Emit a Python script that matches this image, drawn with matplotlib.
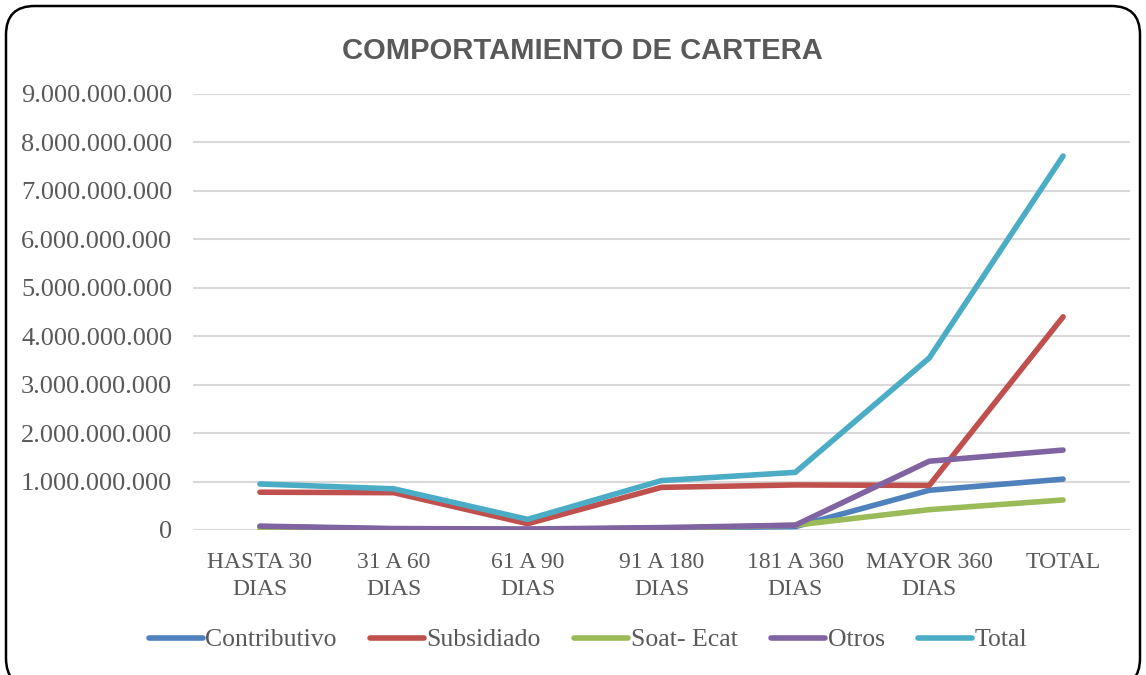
import numpy as np
import matplotlib
matplotlib.use("Agg")
import matplotlib.pyplot as plt
from matplotlib.patches import FancyBboxPatch
from matplotlib.ticker import FuncFormatter

mpl = matplotlib
mpl.rcParams["font.family"] = "Liberation Serif"

categories = ["HASTA 30\nDIAS", "31 A 60\nDIAS", "61 A 90\nDIAS", "91 A 180\nDIAS",
              "181 A 360\nDIAS", "MAYOR 360\nDIAS", "TOTAL"]

contributivo = [0.07e9, 0.02e9, 0.01e9, 0.04e9, 0.07e9, 0.82e9, 1.05e9]
subsidiado = [0.78e9, 0.77e9, 0.13e9, 0.88e9, 0.93e9, 0.92e9, 4.40e9]
soat_ecat = [0.02e9, 0.01e9, 0.01e9, 0.03e9, 0.10e9, 0.42e9, 0.62e9]
otros = [0.08e9, 0.03e9, 0.02e9, 0.05e9, 0.10e9, 1.42e9, 1.65e9]
total = [0.95e9, 0.85e9, 0.22e9, 1.02e9, 1.19e9, 3.55e9, 7.72e9]

series = [
    ("Contributivo", contributivo, "#4F81BD"),
    ("Subsidiado", subsidiado, "#C0504D"),
    ("Soat- Ecat", soat_ecat, "#9BBB59"),
    ("Otros", otros, "#8064A2"),
    ("Total", total, "#4BACC6"),
]

fig = plt.figure(figsize=(11.46, 6.75), dpi=100)
ax = fig.add_axes([193 / 1146, 1 - 530 / 675, 937 / 1146, 436 / 675])

x = np.arange(len(categories))
for name, vals, col in series:
    ax.plot(x, vals, color=col, lw=4, solid_capstyle="round",
            solid_joinstyle="round", label=name)

ax.set_xlim(-0.5, len(categories) - 0.5)
ax.set_ylim(0, 9e9)
ax.set_yticks(np.arange(0, 9.5e9, 1e9))
ax.yaxis.set_major_formatter(
    FuncFormatter(lambda v, p: "0" if v == 0 else f"{int(round(v)):,}".replace(",", ".")))
ax.set_xticks(x)
ax.set_xticklabels(categories, linespacing=1.35)
ax.grid(axis="y", color="#d9d9d9", lw=1.5, zorder=0)
ax.set_axisbelow(True)
for s in ax.spines.values():
    s.set_visible(False)
ax.tick_params(axis="both", length=0, colors="#595959")
ax.tick_params(axis="y", pad=15, labelsize=19)
ax.tick_params(axis="x", pad=16, labelsize=17)

fig.text(0.508, 0.924, "COMPORTAMIENTO DE CARTERA", ha="center", va="center",
         fontsize=21, fontweight="bold", color="#595959", family="Liberation Sans")

leg = fig.legend(loc="center", bbox_to_anchor=(0.513, 1 - 640 / 675), ncol=5,
                 frameon=False, fontsize=18.5, handlelength=2.1, handletextpad=0.1,
                 columnspacing=1.3)
for t in leg.get_texts():
    t.set_color("#595959")

border = FancyBboxPatch((6 / 1146, -12 / 675), 1134 / 1146, 681 / 675,
                        boxstyle="round,pad=0,rounding_size=0.025",
                        transform=fig.transFigure, fill=False, ec="black", lw=1.8,
                        mutation_aspect=1146 / 675)
fig.patches.append(border)

fig.savefig("out.png", dpi=100)
